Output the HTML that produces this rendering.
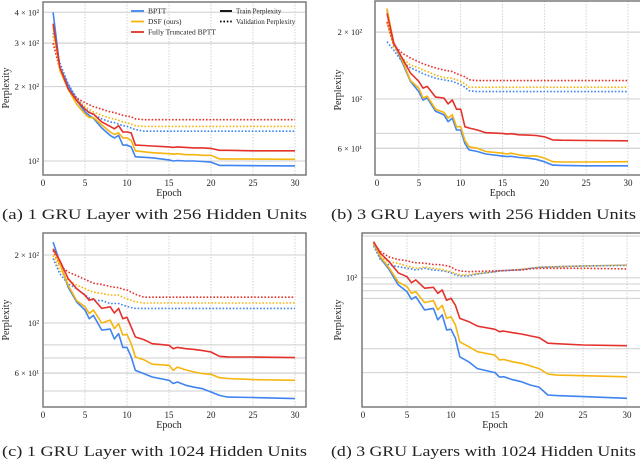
<!DOCTYPE html>
<html><head><meta charset="utf-8">
<style>
html,body{margin:0;padding:0;background:#fff;width:640px;height:460px;overflow:hidden}
svg{display:block}
text{font-family:"Liberation Serif",serif;fill:#222}
</style></head>
<body>
<svg id="chart" width="640" height="460" viewBox="0 0 640 460" xmlns="http://www.w3.org/2000/svg"></svg>
<script>
// shared epochs
const epochs = [1.2,2,3,4,5,5.5,6,7,8,8.5,9,9.5,10,10.5,11,12,13,15,15.5,16,17,18,19,20,21,22,25,30];
const xTicks = [0,5,10,15,20,25,30];
// panel (a)
const aTrainBPTT = [400,240,203,176,158,153,149,136,127,124,127,116,116,114,104,103.5,103,101,100,100.5,100,100,99.5,99,96,96,95.7,95.5];
const aTrainDSF = [350,233,195,170,155,150,150,140,131,128,130,124,124,121,110,109,108,107,106.5,107,106,106,105.5,105.5,102,102,101.8,101.6];
const aTrainFT = [360,240,196,176,162,157,155,144,138,135,139,131,131,130,116,115.5,115,114,113.5,114,113.5,113,113,112.5,110.5,110.5,110,110];
const aValBPTT = [330,250,205,180,163,158,154,148,144,143,141,139,138,136,134,132,132,132,132,132,132,132,132,132,132,132,132,132];
const aValDSF = [320,235,198,178,166,162,158,153,149,148,146,144,143,141,139,138,138,138,138,138,138,138,138,138,138,138,138,138];
const aValFT = [300,235,200,180,172,169,166,162,158,157,155,153,152,151,148,147,147,147,147,147,147,147,147,147,147,147,147,147];
const aTickVals = [400,300,200,100];
const aTickLabels = ["4 × 10²","3 × 10²","2 × 10²","10²"];
const aGridVals = [300];
// panel (b)
const bTrainBPTT = [252,179,147,120,108,99,101,88,85,79,82,72.5,72.5,63,59,58,56.5,55.3,55,55.2,54.5,54.2,53.5,52.2,50.4,50.2,50,50];
const bTrainDSF = [256,179,150,121,112,101,103,90,87,82,85,75,75,65,61,60,58,57,56.5,57,56,55.3,55.5,54.2,52.2,52,52,52.2];
const bTrainFT = [243,179,153,131,120,112,114,102,101,95,99,90,90,75,74,72.5,70.5,70,69.5,69.8,69,68.8,68.5,67.6,65.4,65.2,65,64.8];
const bValBPTT = [181,166,147,138,133,130,128,124,122,121,120,118,116,113,109,108,108,108,108,108,108,108,108,108,108,108,108,108];
const bValDSF = [220,172,153,142,138,135,133,128,125,124.5,124,122,120,117,113,113,113,113,113,113,113,113,113,113,113,113,113,113];
const bValFT = [223,175,161,153,147,144,142,138,135,134,133,130,128,126,122,121,121,121,121,121,121,121,121,121,121,121,121,121];
const bTickVals = [200,100,60];
const bTickLabels = ["2 × 10²","10²","6 × 10¹"];
const bGridVals = [200,100,70,60];
// panel (c)
const cTrainBPTT = [228,186,144,124,114,104.5,108,93,94,85,89.8,78,78,70.7,61.7,59.7,57.7,55.8,54,54.8,53,52,51.2,49.5,47.8,47,46.8,46.3];
const cTrainDSF = [213,183,147,125.6,118,110,114,100,103,94.5,99.4,88.5,89,81,70.7,68.8,65.7,65,61.7,63.8,62,60.7,59.7,59.3,57.3,56.8,56.2,55.8];
const cTrainFT = [213,189,157,142,132.6,126,128,116,118,110.7,116,104.5,106,96,86.7,84.4,81,79.7,77,78,77,76.4,75.5,74.4,71.2,70.8,70.7,70.3];
const cValBPTT = [193,165,149,142,133,129,126,125.6,122,122,122,120,118.5,117,116,116,116,116,116,116,116,116,116,116,116,116,116,116];
const cValDSF = [199,171,155,147,142,139,137,135,133,133,133,130,128,126,124,122.6,122.6,122.6,122.6,122.6,122.6,122.6,122.6,122.6,122.6,122.6,122.6,122.6];
const cValFT = [209,180,168,162,156,153,150,148,145,144,143.5,141,140,137,134,130,130,130,130,130,130,130,130,130,130,130,130,130];
const cTickVals = [200,100,60];
const cTickLabels = ["2 × 10²","10²","6 × 10¹"];
const cGridVals = [80,70,60,50];
// panel (d)
const dTrainBPTT = [129.6,115,105.7,95,90.4,85.6,87.2,79.3,80.2,73.8,76.5,68.7,69,64.7,56.6,54.6,52,50.5,48.9,49,48,47.3,46.2,45.5,43,42.8,42.5,42];
const dTrainDSF = [129.6,116,107,97,93.7,89.4,90.4,83.6,84.8,79.3,82,74.6,75.5,71.2,63,60.9,58.7,57.3,55.3,55.5,54.6,54,53,52,50,49.6,49.4,49];
const dTrainFT = [129.6,119,112,103.6,100.7,96.5,98.4,92.7,93.3,89.4,91.5,85,86.2,82,74.6,72.9,70.6,69,67.8,68.1,67.3,66.7,65.8,65,62.4,62.2,61.6,61.3];
const dValBPTT = [125.6,113.6,109.6,108.2,107,106.5,105.7,107,105.7,105.5,105,104.5,103.6,102,101.2,101.2,102.7,104.4,105,105.2,105.6,106,107,107.8,108,108.2,108.8,109.3];
const dValDSF = [126.5,116,112,110.9,108.8,108,107,108,107,106.5,106.2,105,104.4,103,102,102,103,104.4,105,105.2,105.8,106.2,107,107.8,108,108.2,108.8,109.6];
const dValFT = [128,120.6,116,114,113,112,111.4,111,110,110,109.6,109,108,106,105,104.4,104.6,105,105.2,105.3,105.5,105.7,106.5,107,107,107,107,106.5];
const dTickVals = [100];
const dTickLabels = ["10²"];
const dGridVals = [135,95.6,91,86.2,60,50.5];

const seriesNames = ["BPTT","DSF (ours)","Fully Truncated BPTT"];
const COLORS = ["#3f84f2","#f6b40e","#e4312b"];
const NS = "http://www.w3.org/2000/svg";
const svg = document.getElementById("chart");
function mk(tag, attrs, parent){
  const e = document.createElementNS(NS, tag);
  for (const k in attrs) e.setAttribute(k, attrs[k]);
  (parent||svg).appendChild(e);
  return e;
}

const panels = [
  {id:"a", box:{l:43,t:2,r:306,b:175}, x0:43, x30:295, y100:161, ppd:247, ylx:6, yly:88, tickX:39,
   train:[aTrainBPTT,aTrainDSF,aTrainFT], val:[aValBPTT,aValDSF,aValFT], tv:aTickVals, tl:aTickLabels, gv:aGridVals,
   cap:"(a) 1 GRU Layer with 256 Hidden Units", capX:2, capY:219},
  {id:"b", box:{l:375,t:1,r:660,b:175}, x0:377, x30:628, y100:99, ppd:222, ylx:338, yly:90, tickX:362,
   train:[bTrainBPTT,bTrainDSF,bTrainFT], val:[bValBPTT,bValDSF,bValFT], tv:bTickVals, tl:bTickLabels, gv:bGridVals,
   cap:"(b) 3 GRU Layers with 256 Hidden Units", capX:331, capY:219},
  {id:"c", box:{l:43,t:233,r:306,b:407}, x0:43, x30:295, y100:323, ppd:226, ylx:6, yly:320, tickX:39,
   train:[cTrainBPTT,cTrainDSF,cTrainFT], val:[cValBPTT,cValDSF,cValFT], tv:cTickVals, tl:cTickLabels, gv:cGridVals,
   cap:"(c) 1 GRU Layer with 1024 Hidden Units", capX:2, capY:456},
  {id:"d", box:{l:362,t:233,r:660,b:407}, x0:363, x30:627, y100:277.7, ppd:320, ylx:338, yly:320, tickX:357,
   train:[dTrainBPTT,dTrainDSF,dTrainFT], val:[dValBPTT,dValDSF,dValFT], tv:dTickVals, tl:dTickLabels, gv:dGridVals,
   cap:"(d) 3 GRU Layers with 1024 Hidden Units", capX:331, capY:456}
];

panels.forEach(p => {
  const g = mk("g", {});
  
  
  const xs = v => p.x0 + (p.x30 - p.x0) * v / 30;
  const ys = v => p.y100 - p.ppd * Math.log10(v / 100);
  const clipId = "clip-" + p.id;
  const cp = mk("clipPath", {id:clipId}, g);
  mk("rect", {x:p.box.l, y:p.box.t, width:p.box.r-p.box.l, height:p.box.b-p.box.t}, cp);

  // gridlines
  xTicks.slice(1).forEach(t => {
    const l = mk("line", {x1:xs(t), x2:xs(t), y1:p.box.t, y2:p.box.b, stroke:"#c8c8c8", "stroke-width":0.8, "stroke-dasharray":"1.5,1.5"}, g);
    
    
  });
  p.gv.concat(p.tv).forEach(v => {
    const y = ys(v);
    if (y < p.box.t || y > p.box.b) return;
    const l = mk("line", {x1:p.box.l, x2:p.box.r, y1:y, y2:y, stroke:"#cfcfcf", "stroke-width":1}, g);
    
    
  });

  // series
  const sg = mk("g", {"clip-path":"url(#"+clipId+")"}, g);
  [p.val, p.train].forEach((set, si) => {
    set.forEach((vals, i) => {
      const d = vals.map((v, k) => (k ? "L" : "M") + xs(epochs[k]).toFixed(1) + "," + ys(v).toFixed(1)).join(" ");
      const path = mk("path", {d:d, fill:"none", stroke:COLORS[i], "stroke-width":1.6, "stroke-linejoin":"round"}, sg);
      if (si === 0) path.setAttribute("stroke-dasharray", "1.6,1.8");
      
      
    });
  });

  // frame
  const fr = mk("rect", {x:p.box.l, y:p.box.t, width:p.box.r-p.box.l, height:p.box.b-p.box.t, fill:"none", stroke:"#7a7a7a", "stroke-width":1.5}, g);
  
  

  // x tick labels
  xTicks.forEach(t => {
    const tx = mk("text", {x:xs(t), y:p.box.b + 11, "text-anchor":"middle", "font-size":9}, g);
    tx.textContent = t;
    
    
  });
  // y tick labels
  p.tv.forEach((v, i) => {
    const tx = mk("text", {x:p.tickX, y:ys(v) + 3, "text-anchor":"end", "font-size":8.5}, g);
    tx.textContent = p.tl[i];
    
    
  });
  // axis titles
  const xt = mk("text", {x:(p.x0+p.x30)/2, y:p.box.b + 21, "text-anchor":"middle", "font-size":10}, g);
  xt.textContent = "Epoch";
  
  
  const yt = mk("text", {x:0, y:0, "text-anchor":"middle", "font-size":10, transform:"translate("+(p.ylx+3)+","+p.yly+") rotate(-90)"}, g);
  yt.textContent = "Perplexity";
  
  
  // caption
  const cap = mk("text", {x:p.capX, y:p.capY, "font-size":15, textLength:305, lengthAdjust:"spacingAndGlyphs"}, svg);
  cap.textContent = p.cap;
  
  
});

// legend in panel (a)
const lg = mk("g", {});


seriesNames.forEach((n, i) => {
  const y = 11 + i * 10.5;
  const ln = mk("line", {x1:131, x2:144, y1:y, y2:y, stroke:COLORS[i], "stroke-width":1.8}, lg);
  
  
  const t = mk("text", {x:148, y:y + 2.5, "font-size":7.5}, lg);
  t.textContent = n;
  
  
});
["Train Perplexity","Validation Perplexity"].forEach((n, i) => {
  const y = 11 + i * 10.5;
  const ln = mk("line", {x1:220, x2:232, y1:y, y2:y, stroke:"#000", "stroke-width":1.8}, lg);
  if (i === 1) ln.setAttribute("stroke-dasharray", "1.6,1.8");
  
  
  const t = mk("text", {x:236, y:y + 2.5, "font-size":7}, lg);
  t.textContent = n;
  
  
});
</script>
</body></html>
